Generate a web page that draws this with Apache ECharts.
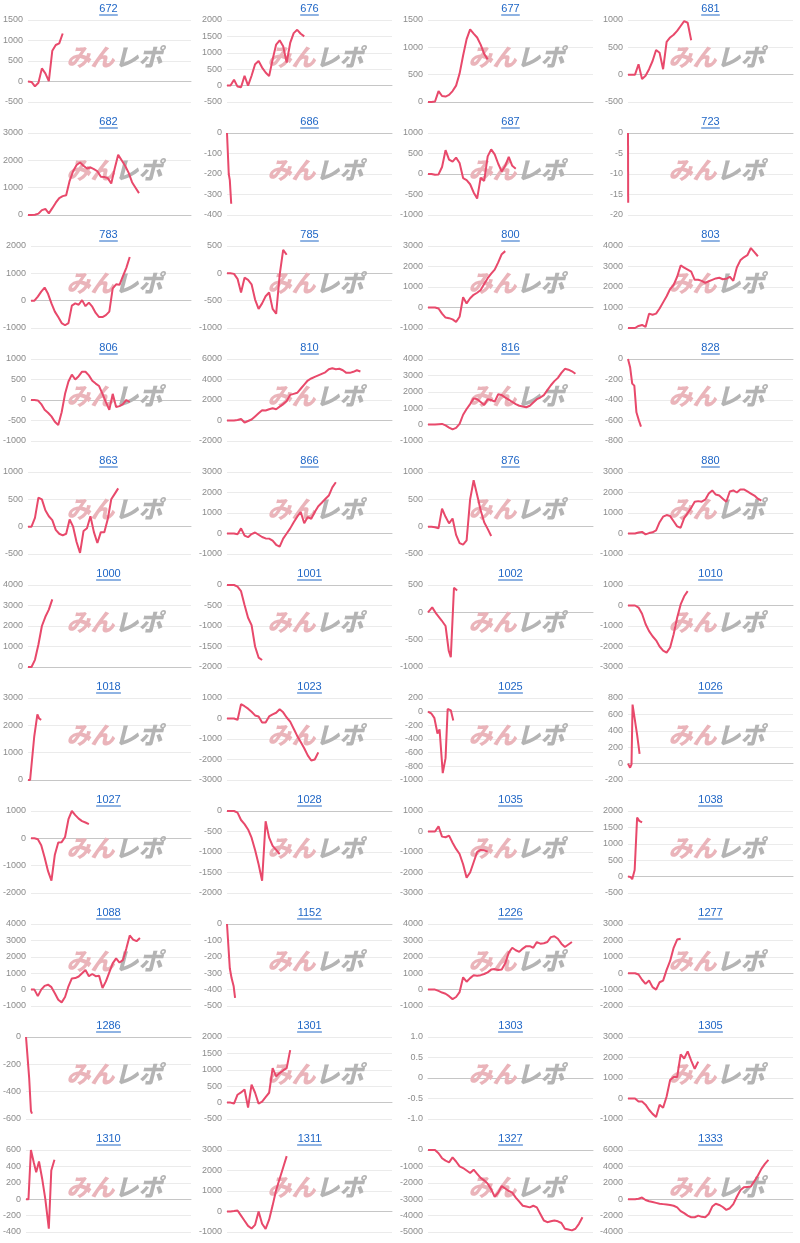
<!DOCTYPE html>
<html>
<head>
<meta charset="utf-8">
<script src="https://cdn.jsdelivr.net/npm/echarts@6/dist/echarts.min.js"></script>
<style>
  html, body { margin: 0; padding: 0; background: #fff; }
  #main { width: 800px; height: 1243px; }
</style>
</head>
<body>
<div id="main"></div>
<script>
// panel names (machine numbers), in reading order
const codes = ['672', '676', '677', '681', '682', '686', '687', '723', '783', '785', '800', '803',
  '806', '810', '816', '828', '863', '866', '876', '880', '1000', '1001', '1002', '1010',
  '1018', '1023', '1025', '1026', '1027', '1028', '1035', '1038', '1088', '1152', '1226', '1277',
  '1286', '1301', '1303', '1305', '1310', '1311', '1327', '1333']

// y ticks of each panel
const yMin = [-500, -500, 0, -500, 0, -400, -1000, -20, -1000, -1000, -1000, 0,
  -1000, -2000, -1000, -800, -500, -1000, -500, -1000, 0, -2000, -1000, -3000,
  0, -3000, -1000, -200, -2000, -2000, -3000, -500, -1000, -500, -1000, -2000,
  -600, -500, -1, -1000, -400, -1000, -5000, -4000]
const yMax = [1500, 2000, 1500, 1000, 3000, 0, 1000, 0, 2000, 500, 3000, 4000,
  1000, 6000, 4000, 0, 1000, 3000, 1000, 3000, 4000, 0, 500, 1000,
  3000, 1000, 200, 800, 1000, 0, 1000, 2000, 4000, 0, 4000, 3000,
  0, 2000, 1, 3000, 600, 3000, 0, 6000]
const yStep = [500, 500, 500, 500, 1000, 100, 500, 5, 1000, 500, 1000, 1000,
  500, 2000, 1000, 200, 500, 1000, 500, 1000, 1000, 500, 500, 1000,
  1000, 1000, 200, 200, 1000, 500, 1000, 500, 1000, 100, 1000, 1000,
  200, 500, 0.5, 1000, 200, 1000, 1000, 2000]

// series: plain values are one per time step, [t, v] pairs where points are irregular
const s672 = [0, -10, -120, -30, 320, 200, 10, 750, 890, 930, 1170]
const s676 = [0, 0, 180, -30, -50, 300, 0, 300, 650, 750, 550, 400, 290, 800, 1250, 1380, 1200, 700, 1300, 1600, 1700, 1580, 1500]
const s677 = [0, 0, 10, 200, 110, 100, 130, 200, 300, 520, 850, 1150, 1330, 1250, 1180, 1050, 880, 780]
const s681 = [0, 0, 0, 190, -80, -20, 100, 250, 450, 400, 100, 600, 680, 730, 800, 890, 980, 950, 630]
const s682 = [0, 0, 10, 50, 180, 220, 60, 250, 450, 620, 690, 720, 1250, 1600, 1830, 1920, 1800, 1700, 1740, 1680, 1600, 1400, 1390, 1350, 1150, 1700, 2200, 2000, 1800, 1550, 1200, 1000, 800]
const s686 = [[0, 0], [0.5, -200], [0.8, -230], [1.2, -345]]
const s687 = [0, 0, -20, -10, 170, 580, 350, 300, 400, 270, -100, -150, -250, -450, -600, -90, -170, 430, 600, 480, 250, 60, 200, 420, 200, 130]
const s723 = [[0, 0], [0.05, -17]]
const s783 = [0, 0, 150, 330, 480, 250, -100, -400, -600, -820, -900, -820, -180, -100, -150, 20, -200, -70, -220, -450, -600, -600, -530, -400, 450, 600, 580, 900, 1200, 1600]
const s785 = [0, 0, -10, -100, -350, -80, -120, -200, -480, -650, -550, -420, -350, -650, -740, -30, 430, 340]
const s800 = [0, 0, 0, -50, -300, -490, -520, -580, -700, -450, 500, 200, 450, 620, 720, 850, 1150, 1430, 1650, 1850, 2200, 2600, 2750]
const s803 = [0, 0, 0, 100, 150, 50, 700, 650, 700, 950, 1250, 1550, 1900, 2100, 2500, 3050, 2950, 2850, 2750, 2350, 2350, 2300, 2200, 2280, 2350, 2420, 2450, 2380, 2400, 2500, 2300, 2950, 3300, 3450, 3550, 3900, 3700, 3500]
const s806 = [0, 0, -10, -100, -240, -310, -400, -530, -610, -300, 150, 450, 620, 500, 580, 690, 690, 600, 470, 400, 340, 150, -50, -240, 150, -170, -150, -100, 0, -50]
const s810 = [0, 0, 0, 50, 150, -200, -50, 100, 400, 700, 1000, 980, 1100, 1200, 1100, 1350, 1600, 1900, 2500, 2600, 2700, 3100, 3500, 3900, 4100, 4250, 4400, 4550, 4700, 5000, 5100, 5000, 5050, 4900, 4650, 4650, 4750, 4900, 4780]
const s816 = [0, 0, 0, 20, 40, -50, -180, -290, -200, 50, 600, 950, 1250, 1600, 1550, 1380, 1200, 1550, 1500, 1400, 1850, 1800, 1650, 1520, 1380, 1250, 1150, 1100, 1060, 1150, 1350, 1550, 1650, 1800, 2100, 2400, 2650, 2850, 3150, 3400, 3350, 3250, 3100]
const s828 = [[0, 0], [0.6, -80], [1.2, -240], [1.8, -260], [2.4, -520], [3.1, -600], [3.7, -660]]
const s863 = [0, 0, 160, 530, 500, 300, 190, 120, -60, -130, -160, -130, 130, 0, -280, -480, -80, -30, 190, -100, -300, -100, -100, 140, 500, 600, 700]
const s866 = [0, 0, 0, -40, 250, -100, -180, -30, 50, -60, -170, -240, -250, -350, -550, -640, -250, 0, 250, 550, 820, 1050, 500, 800, 720, 1050, 1330, 1500, 1680, 1850, 2250, 2500]
const s876 = [0, 0, -10, -30, 330, 180, 60, 150, -150, -300, -330, -250, 500, 850, 580, 300, 80, -40, -170]
const s880 = [0, 0, 0, 50, 80, -40, 20, 60, 150, 550, 820, 900, 850, 600, 350, 280, 750, 1000, 1250, 1550, 1580, 1550, 1650, 1950, 2100, 1900, 1850, 1700, 1550, 2050, 2100, 2000, 2150, 2150, 2050, 1950, 1850, 1700, 1600]
const s1000 = [0, 0, 350, 1100, 2000, 2450, 2800, 3300]
const s1001 = [0, 0, 0, -40, -150, -490, -800, -980, -1500, -1770, -1830]
const s1002 = [[0, 0], [1.2, 90], [2.4, -30], [3.9, -150], [5, -250], [5.9, -700], [6.5, -820], [7.4, 450], [8.3, 400]]
const s1010 = [0, 0, 0, -100, -400, -900, -1250, -1500, -1700, -2000, -2200, -2300, -2050, -1400, -600, 50, 450, 700]
const s1018 = [[0, 0], [0.6, 0], [1.8, 1600], [2.7, 2400], [3.2, 2250], [3.8, 2200]]
const s1023 = [0, 0, 0, -70, 700, 600, 480, 330, 150, 100, -200, -200, 100, 200, 280, 450, 300, 50, -150, -500, -850, -1150, -1450, -1800, -2050, -2000, -1650]
const s1025 = [[0, 0], [1, -30], [1.8, -90], [2.7, -320], [3.3, -260], [4.2, -900], [5, -680], [5.6, 40], [6.5, 20], [7.2, -130]]
const s1026 = [[0, 0], [0.6, -50], [1, -10], [1.3, 720], [1.7, 700], [2.6, 350], [3.3, 120]]
const s1027 = [0, 0, -30, -250, -700, -1200, -1550, -600, -150, -140, 50, 700, 1000, 850, 720, 630, 580, 520]
const s1028 = [0, 0, 0, -40, -220, -320, -450, -650, -950, -1300, -1700, -250, -650, -850, -950, -1050]
const s1035 = [0, 0, 0, 250, -250, -280, -200, -550, -850, -1100, -1600, -2250, -2000, -1500, -1000, -900, -920, -980]
const s1038 = [[0, 0], [0.7, -10], [1.2, -80], [1.9, 200], [2.6, 1800], [3.2, 1700], [4, 1650]]
const s1088 = [0, 0, -400, 0, 230, 300, 150, -220, -620, -780, -450, 200, 680, 700, 800, 1000, 1200, 820, 950, 820, 850, 100, 500, 1050, 1600, 1900, 1650, 1800, 2500, 3300, 3050, 2950, 3150]
const s1152 = [[0, 0], [0.8, -270], [1.3, -330], [1.9, -380], [2.3, -450]]
const s1226 = [0, 0, 0, -80, -180, -250, -400, -580, -450, -150, 750, 480, 700, 880, 850, 880, 950, 1050, 1220, 1250, 1200, 1230, 1600, 2250, 2550, 2400, 2300, 2500, 2650, 2650, 2550, 2900, 2800, 2830, 2900, 3200, 3250, 3100, 2800, 2600, 2750, 2900]
const s1277 = [0, 0, 0, -80, -400, -650, -450, -850, -1000, -550, -450, 200, 750, 1550, 2050, 2100]
const s1286 = [[0, 0], [0.3, -100], [0.9, -300], [1.4, -540], [1.7, -560]]
const s1301 = [0, 0, -30, 240, 310, 400, -150, 550, 300, -30, 30, 170, 300, 1050, 800, 900, 980, 1050, 1600]
const s1303 = []
const s1305 = [0, 0, 0, -150, -150, -300, -550, -750, -900, -300, -450, 100, 900, 1050, 1050, 2150, 1950, 2300, 1850, 1450, 1800]
const s1310 = [[0, 0], [0.7, 0], [1.4, 600], [2.2, 450], [2.9, 330], [3.7, 460], [4.6, 250], [5.5, 0], [6.5, -360], [7.2, 350], [8.1, 480]]
const s1311 = [0, 0, 20, 50, -200, -450, -700, -830, -650, 0, -600, -850, -400, 300, 1050, 1600, 2150, 2700]
const s1327 = [0, 0, 0, -200, -500, -650, -750, -450, -700, -1000, -1100, -1250, -1400, -1200, -1450, -1700, -1850, -2050, -2400, -2850, -2600, -2200, -2350, -2500, -2600, -2900, -3150, -3400, -3450, -3500, -3400, -3500, -3900, -4300, -4400, -4350, -4300, -4350, -4450, -4800, -4850, -4900, -4800, -4500, -4100]
const s1333 = [0, 0, 0, 50, 200, -100, -250, -350, -450, -550, -600, -650, -700, -800, -1000, -1450, -1700, -2000, -2200, -2200, -2000, -2150, -2200, -1800, -900, -550, -700, -950, -1300, -1100, -600, 300, 1100, 1450, 1500, 1550, 2200, 2900, 3700, 4300, 4800]

const seriesData = [s672, s676, s677, s681, s682, s686, s687, s723, s783, s785, s800, s803,
  s806, s810, s816, s828, s863, s866, s876, s880, s1000, s1001, s1002, s1010,
  s1018, s1023, s1025, s1026, s1027, s1028, s1035, s1038, s1088, s1152, s1226, s1277,
  s1286, s1301, s1303, s1305, s1310, s1311, s1327, s1333]

const lastStep = 47 // time steps across each plot

const lefts = [26, 227, 428, 628]
const plotW = 165
const plotH = 82
const rowH = 113
const topOff = 20

const grid = []
const xAxis = []
const yAxis = []
const series = []
const graphic = []

codes.forEach((code, i) => {
  const row = Math.floor(i / 4)
  const col = i % 4
  const left = lefts[col]
  const top = topOff + row * rowH
  const cx = left + plotW / 2

  grid.push({ left: left, top: top, width: plotW, height: plotH })

  xAxis.push({
    type: 'value', gridIndex: i, min: 0, max: lastStep,
    axisLabel: { show: false }, axisTick: { show: false }, splitLine: { show: false },
    axisLine: { lineStyle: { color: '#c6c6c6', width: 1 } },
  })

  yAxis.push({
    type: 'value', gridIndex: i, min: yMin[i], max: yMax[i], interval: yStep[i],
    axisLine: { show: false }, axisTick: { show: false },
    splitLine: { lineStyle: { color: '#ebebeb' } },
    axisLabel: {
      fontSize: 9, color: '#8c8c8c', margin: 5, fontFamily: 'Liberation Sans, Arial',
      formatter: v => (yStep[i] < 1 && v !== 0) ? v.toFixed(1) : String(v),
    },
  })

  const pts = seriesData[i].map((v, k) => Array.isArray(v) ? v : [k, v])
  series.push({
    type: 'line', xAxisIndex: i, yAxisIndex: i, data: pts,
    showSymbol: false, symbol: 'none', z: 5,
    lineStyle: { color: '#e8496b', width: 2 },
  })

  // title, drawn like a link
  const ty = row * rowH + 9
  const tw = code.length * 6.2
  graphic.push({
    type: 'text', x: cx, y: ty, z: 10,
    style: {
      text: code, fill: '#1f66c6', font: '11px "Liberation Sans", Arial',
      align: 'center', verticalAlign: 'middle', textAlign: 'center', textVerticalAlign: 'middle',
    },
  })
  graphic.push({
    type: 'line', z: 10,
    shape: { x1: cx - tw / 2, y1: ty + 6, x2: cx + tw / 2, y2: ty + 6 },
    style: { stroke: '#1f66c6', lineWidth: 1 },
  })

  // watermark
  graphic.push({
    type: 'text', x: cx + 6, y: top + 37, z: 1,
    style: {
      text: '{a|みん}{b|レポ}',
      align: 'center', verticalAlign: 'middle', textAlign: 'center', textVerticalAlign: 'middle',
      rich: {
        a: { fill: '#eab4ba', fontSize: 24, fontWeight: 900, fontStyle: 'italic', fontFamily: 'Noto Sans CJK JP' },
        b: { fill: '#b4b4b4', fontSize: 24, fontWeight: 900, fontStyle: 'italic', fontFamily: 'Noto Sans CJK JP' },
      },
    },
  })
})

const chart = echarts.init(document.getElementById('main'))
chart.setOption({
  animation: false,
  grid: grid,
  xAxis: xAxis,
  yAxis: yAxis,
  series: series,
  graphic: graphic,
})
</script>
</body>
</html>
